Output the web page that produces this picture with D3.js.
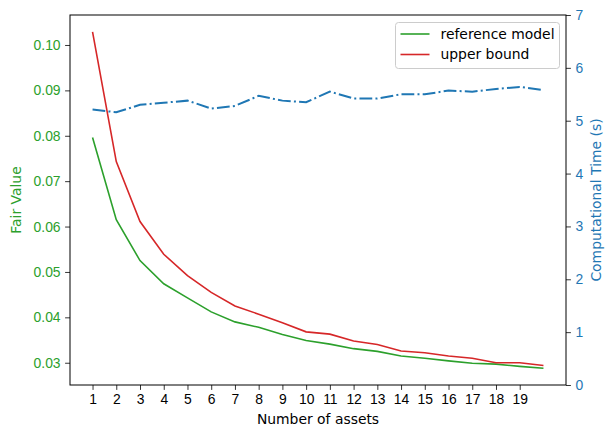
<!DOCTYPE html>
<html>
<head>
<meta charset="utf-8">
<script src="https://cdn.jsdelivr.net/npm/d3@7"></script>
<style>
  body { margin: 0; background: #fff; }
  svg { font-family: "DejaVu Sans", sans-serif; }
</style>
</head>
<body>
<svg></svg>
<script>
// number of assets
const assets = [1, 2, 3, 4, 5, 6, 7, 8, 9, 10, 11, 12, 13, 14, 15, 16, 17, 18, 19, 20];
const xTicks = [1, 2, 3, 4, 5, 6, 7, 8, 9, 10, 11, 12, 13, 14, 15, 16, 17, 18, 19];
// fair value of the reference model
const referenceModel = [0.0796, 0.0615, 0.0525, 0.0474, 0.0443, 0.0412, 0.0390, 0.0378, 0.0362, 0.0349,
    0.0341, 0.0331, 0.0325, 0.0315, 0.0310, 0.0304, 0.0299, 0.0297, 0.0292, 0.0288];
// upper bound
const upperBound = [0.1029, 0.0743, 0.0611, 0.0539, 0.0492, 0.0455, 0.0425, 0.0407, 0.0388, 0.0368,
    0.0363, 0.0348, 0.0340, 0.0326, 0.0322, 0.0315, 0.0310, 0.0300, 0.0300, 0.0294];
// computational time (s)
const compTime = [5.21, 5.16, 5.30, 5.34, 5.38, 5.23, 5.28, 5.47, 5.38, 5.35,
    5.55, 5.42, 5.42, 5.50, 5.50, 5.57, 5.55, 5.60, 5.64, 5.58];
const leftTicks = [0.03, 0.04, 0.05, 0.06, 0.07, 0.08, 0.09, 0.10];
const rightTicks = [0, 1, 2, 3, 4, 5, 6, 7];

const W = 614, H = 438;
const mLeft = 70, mRight = 566, mTop = 15, mBottom = 385;
const fs = 13.9;

let svg = d3.select("svg").attr("width", W).attr("height", H);

// matplotlib style 5% margins
let xMin = d3.min(assets), xMax = d3.max(assets);
let xPad = (xMax - xMin) * 0.05;
let x = d3.scaleLinear().domain([xMin - xPad, xMax + xPad]).range([mLeft, mRight]);

let yMin = d3.min(referenceModel.concat(upperBound)), yMax = d3.max(referenceModel.concat(upperBound));
let yPad = (yMax - yMin) * 0.05;
let y = d3.scaleLinear().domain([yMin - yPad, yMax + yPad]).range([mBottom, mTop]);
let y2 = d3.scaleLinear().domain([0, 7]).range([mBottom, mTop]);

const green = "#2ca02c", red = "#d62728", blue = "#1f77b4";

// x axis
let xAxis = svg.append("g").attr("transform", `translate(0,${mBottom})`)
    .call(d3.axisBottom(x).tickValues(xTicks).tickSize(4.9).tickPadding(4.5).tickFormat(d3.format("d")));
xAxis.select(".domain").remove();
xAxis.selectAll("text").style("font-size", fs + "px").attr("fill", "#000");
xAxis.selectAll("line").attr("stroke", "#000").attr("stroke-width", 0.8);

// left axis
let yAxis = svg.append("g").attr("transform", `translate(${mLeft},0)`)
    .call(d3.axisLeft(y).tickValues(leftTicks).tickSize(4.9).tickPadding(4.5).tickFormat(d3.format(".2f")));
yAxis.select(".domain").remove();
yAxis.selectAll("text").style("font-size", fs + "px").attr("fill", green);
yAxis.selectAll("line").attr("stroke", "#000").attr("stroke-width", 0.8);

// right axis
let y2Axis = svg.append("g").attr("transform", `translate(${mRight},0)`)
    .call(d3.axisRight(y2).tickValues(rightTicks).tickSize(4.9).tickPadding(4.5).tickFormat(d3.format("d")));
y2Axis.select(".domain").remove();
y2Axis.selectAll("text").style("font-size", fs + "px").attr("fill", blue);
y2Axis.selectAll("line").attr("stroke", "#000").attr("stroke-width", 0.8);

// lines
let line = (ys, sc) => d3.line().x((d, i) => x(assets[i])).y(d => sc(d))(ys);

svg.append("path").attr("d", line(referenceModel, y))
    .attr("fill", "none").attr("stroke", green).attr("stroke-width", 1.6);
svg.append("path").attr("d", line(upperBound, y))
    .attr("fill", "none").attr("stroke", red).attr("stroke-width", 1.6);
svg.append("path").attr("d", line(compTime, y2))
    .attr("fill", "none").attr("stroke", blue).attr("stroke-width", 2)
    .attr("stroke-dasharray", "12.8,3.2,2,3.2");

// frame
svg.append("rect").attr("x", mLeft).attr("y", mTop)
    .attr("width", mRight - mLeft).attr("height", mBottom - mTop)
    .attr("fill", "none").attr("stroke", "#000").attr("stroke-width", 1);

// axis labels
svg.append("text").attr("x", (mLeft + mRight) / 2).attr("y", 424)
    .attr("text-anchor", "middle").style("font-size", fs + "px").text("Number of assets");
svg.append("text").attr("transform", `translate(21,${(mTop + mBottom) / 2}) rotate(-90)`)
    .attr("text-anchor", "middle").attr("fill", green).style("font-size", fs + "px").text("Fair Value");
svg.append("text").attr("transform", `translate(601,${(mTop + mBottom) / 2}) rotate(-90)`)
    .attr("text-anchor", "middle").attr("fill", blue).style("font-size", fs + "px").text("Computational Time (s)");

// legend
let legend = svg.append("g");
legend.append("rect").attr("x", 395.5).attr("y", 22.5).attr("width", 164).attr("height", 46)
    .attr("rx", 3).attr("fill", "#fff").attr("fill-opacity", 0.8)
    .attr("stroke", "#ccc").attr("stroke-width", 1);
[["reference model", green, 34], ["upper bound", red, 54.5]].forEach(([name, col, ly]) => {
    legend.append("line").attr("x1", 400.5).attr("x2", 429.5).attr("y1", ly).attr("y2", ly)
        .attr("stroke", col).attr("stroke-width", 1.6);
    legend.append("text").attr("x", 440.5).attr("y", ly).attr("dy", "0.35em")
        .style("font-size", fs + "px").text(name);
});
</script>
</body>
</html>
